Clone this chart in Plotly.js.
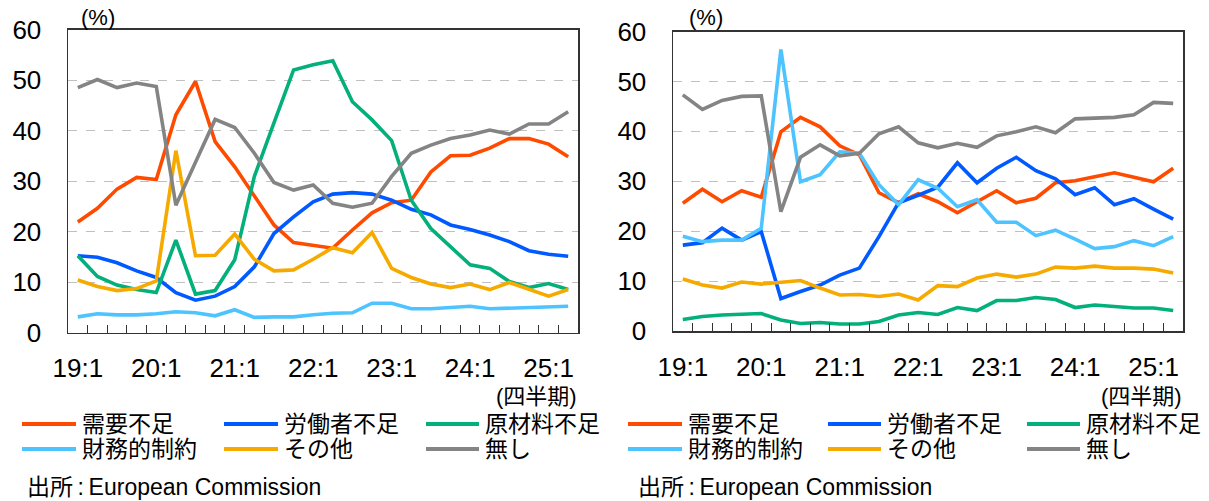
<!DOCTYPE html>
<html>
<head>
<meta charset="utf-8">
<script src="https://cdn.plot.ly/plotly-3.0.1.min.js"></script>
<style>html,body{margin:0;padding:0;background:#fff;}#chart{width:1209px;height:501px;}</style>
</head>
<body>
<div id="chart"></div>
<script>
// ---- data ----
const quarters = ['19:1','19:2','19:3','19:4','20:1','20:2','20:3','20:4','21:1','21:2','21:3','21:4',
  '22:1','22:2','22:3','22:4','23:1','23:2','23:3','23:4','24:1','24:2','24:3','24:4','25:1','25:2'];
const seriesNames = ['需要不足','労働者不足','原材料不足','財務的制約','その他','無し'];
const seriesColors = ['#FF4B00','#005AFF','#03AF7A','#4DC4FF','#F6AA00','#848484'];

// left panel
const demandL   = [21.9,24.6,28.4,30.7,30.3,43.1,49.7,37.8,32.8,26.9,21.3,17.8,17.3,16.7,20.3,23.7,25.7,26.2,31.8,35.0,35.1,36.5,38.4,38.4,37.3,34.8];
const laborL    = [15.2,14.9,13.8,12.2,10.9,7.9,6.4,7.2,9.1,13.0,19.6,22.9,25.9,27.4,27.7,27.4,26.2,24.4,23.3,21.3,20.4,19.3,18.0,16.2,15.5,15.1];
const materialL = [15.2,11.1,9.4,8.5,7.9,18.3,7.6,8.3,14.4,30.9,41.5,52.0,53.0,53.8,45.7,42.1,38.0,26.2,20.6,17.0,13.4,12.7,10.1,8.9,9.7,8.5];
const financeL  = [3.1,3.7,3.5,3.5,3.7,4.1,3.9,3.3,4.5,3.0,3.1,3.1,3.5,3.8,3.9,5.8,5.8,4.7,4.7,5.0,5.2,4.7,4.8,4.9,5.0,5.2];
const otherL    = [10.4,9.1,8.3,8.7,10.2,36.0,15.2,15.3,19.5,14.5,12.2,12.4,14.5,16.8,15.8,19.8,12.7,10.9,9.6,8.9,9.6,8.5,9.9,8.5,7.2,8.5];
const noneL     = [48.5,50.1,48.5,49.4,48.7,25.2,33.7,42.2,40.6,35.5,29.7,28.2,29.2,25.6,24.8,25.6,30.9,35.5,37.1,38.4,39.1,40.1,39.3,41.3,41.3,43.7];

// right panel
const demandR   = [25.6,28.4,25.9,28.1,26.8,39.9,42.8,40.9,37.1,35.3,27.7,25.7,27.5,25.9,23.7,25.9,28.1,25.7,26.6,29.7,30.1,30.9,31.7,30.8,29.9,32.6];
const laborR    = [17.2,17.7,20.6,18.2,19.9,6.5,7.9,9.2,11.2,12.6,18.9,25.7,27.2,28.8,33.7,29.7,32.6,34.8,32.1,30.5,27.3,28.7,25.3,26.5,24.4,22.4];
const materialR = [2.3,2.9,3.2,3.4,3.5,2.2,1.5,1.7,1.4,1.4,1.9,3.2,3.7,3.3,4.7,4.1,6.1,6.1,6.7,6.3,4.7,5.2,4.9,4.6,4.6,4.1];
const financeR  = [19.0,17.9,18.2,18.2,20.6,56.4,29.9,31.3,35.9,35.6,29.3,25.3,30.3,28.6,24.9,26.3,21.8,21.8,19.1,20.2,18.4,16.5,16.9,18.1,17.1,18.9];
const otherR    = [10.4,9.2,8.6,9.8,9.4,9.8,10.1,8.6,7.2,7.3,6.9,7.4,6.2,9.1,8.9,10.6,11.4,10.8,11.4,12.8,12.6,13.0,12.6,12.6,12.4,11.6];
const noneR     = [47.3,44.4,46.2,47.0,47.1,23.9,34.8,37.3,35.1,35.6,39.5,40.9,37.7,36.7,37.6,36.8,39.1,39.9,40.9,39.7,42.5,42.6,42.8,43.3,45.8,45.6];

const yTicks = [0,10,20,30,40,50,60];
const unitLabel = '(%)';
const periodLabel = '(四半期)';
const sourceLabel = '出所\u2009:\u2009European Commission';

// ---- build ----
const W = 1209, H = 501;
const px = x => x / W;
const py = y => 1 - y / H;
const FONT = 'Liberation Sans, Arial, Noto Sans CJK JP, sans-serif';

const xIdx = quarters.map((q, i) => i);
const tickIdx = xIdx.filter(i => quarters[i].endsWith(':1'));
const tickTxt = tickIdx.map(i => quarters[i]);

const leftSeries = [demandL, laborL, materialL, financeL, otherL, noneL];
const rightSeries = [demandR, laborR, materialR, financeR, otherR, noneR];

const traces = [];
function addPanel(series, xa, ya) {
  series.forEach((vals, k) => {
    traces.push({
      type: 'scatter', mode: 'lines', x: xIdx, y: vals,
      xaxis: xa, yaxis: ya, name: seriesNames[k], showlegend: false,
      line: {color: seriesColors[k], width: 3.6}, hoverinfo: 'skip'
    });
  });
}
addPanel(leftSeries, 'x', 'y');
addPanel(rightSeries, 'x2', 'y2');

function xAxis(domain, anchor) {
  return {
    domain: domain, anchor: anchor, range: [-0.5, quarters.length - 0.5],
    tickmode: 'array', tickvals: tickIdx, ticktext: tickTxt, ticks: '',
    ticklabelstandoff: 12,
    tickfont: {family: FONT, size: 26, color: '#000'},
    showgrid: false, zeroline: false,
    showline: true, linecolor: '#333', linewidth: 1.5, mirror: true,
    minor: {tickmode: 'array', tickvals: xIdx.slice(0, -1).map(i => i + 0.5),
            ticks: 'inside', ticklen: 8, tickwidth: 1, tickcolor: '#333', showgrid: false},
    fixedrange: true
  };
}
function yAxis(domain, anchor) {
  return {
    domain: domain, anchor: anchor, range: [0, 60],
    tickmode: 'array', tickvals: yTicks, ticks: '',
    ticklabelstandoff: 20,
    tickfont: {family: FONT, size: 26, color: '#000'},
    showgrid: true, gridcolor: '#c0c0c0', gridwidth: 1, griddash: 'dash',
    zeroline: false,
    showline: true, linecolor: '#333', linewidth: 1.5, mirror: true,
    fixedrange: true
  };
}

const shapes = [];
const annotations = [];
function txt(x, y, s, anchor, size) {
  annotations.push({xref: 'paper', yref: 'paper', x: px(x), y: py(y), text: s,
    showarrow: false, xanchor: anchor, yanchor: 'middle',
    font: {family: FONT, size: size, color: '#000'}});
}
function legendBlock(cols, rows) {
  seriesNames.forEach((nm, k) => {
    const c = cols[k % 3], r = rows[Math.floor(k / 3)];
    shapes.push({type: 'line', xref: 'paper', yref: 'paper',
      x0: px(c[0]), x1: px(c[1]), y0: py(r), y1: py(r),
      line: {color: seriesColors[k], width: 4}});
    txt(c[2], r, nm, 'left', 23);
  });
}

// left panel texts
txt(98, 17, unitLabel, 'center', 22);
txt(579, 396, periodLabel, 'right', 22);
legendBlock([[22, 76, 80], [224, 278, 282], [426, 479, 483]], [424, 449]);
txt(25, 487, sourceLabel, 'left', 23);

// right panel texts
txt(706, 17, unitLabel, 'center', 22);
txt(1184, 396, periodLabel, 'right', 22);
legendBlock([[628, 682, 686], [828, 881, 885], [1027, 1080, 1084]], [424, 449]);
txt(636, 487, sourceLabel, 'left', 23);

const layout = {
  width: W, height: H,
  margin: {l: 0, r: 0, t: 0, b: 0, pad: 0},
  paper_bgcolor: '#fff', plot_bgcolor: '#fff',
  showlegend: false, hovermode: false,
  font: {family: FONT, color: '#000'},
  xaxis: xAxis([px(68), px(578)], 'y'),
  yaxis: yAxis([py(332.5), py(29.5)], 'x'),
  xaxis2: xAxis([px(673), px(1183)], 'y2'),
  yaxis2: yAxis([py(331), py(31.5)], 'x2'),
  shapes: shapes,
  annotations: annotations
};

Plotly.newPlot('chart', traces, layout, {staticPlot: true, displayModeBar: false});
</script>
</body>
</html>
